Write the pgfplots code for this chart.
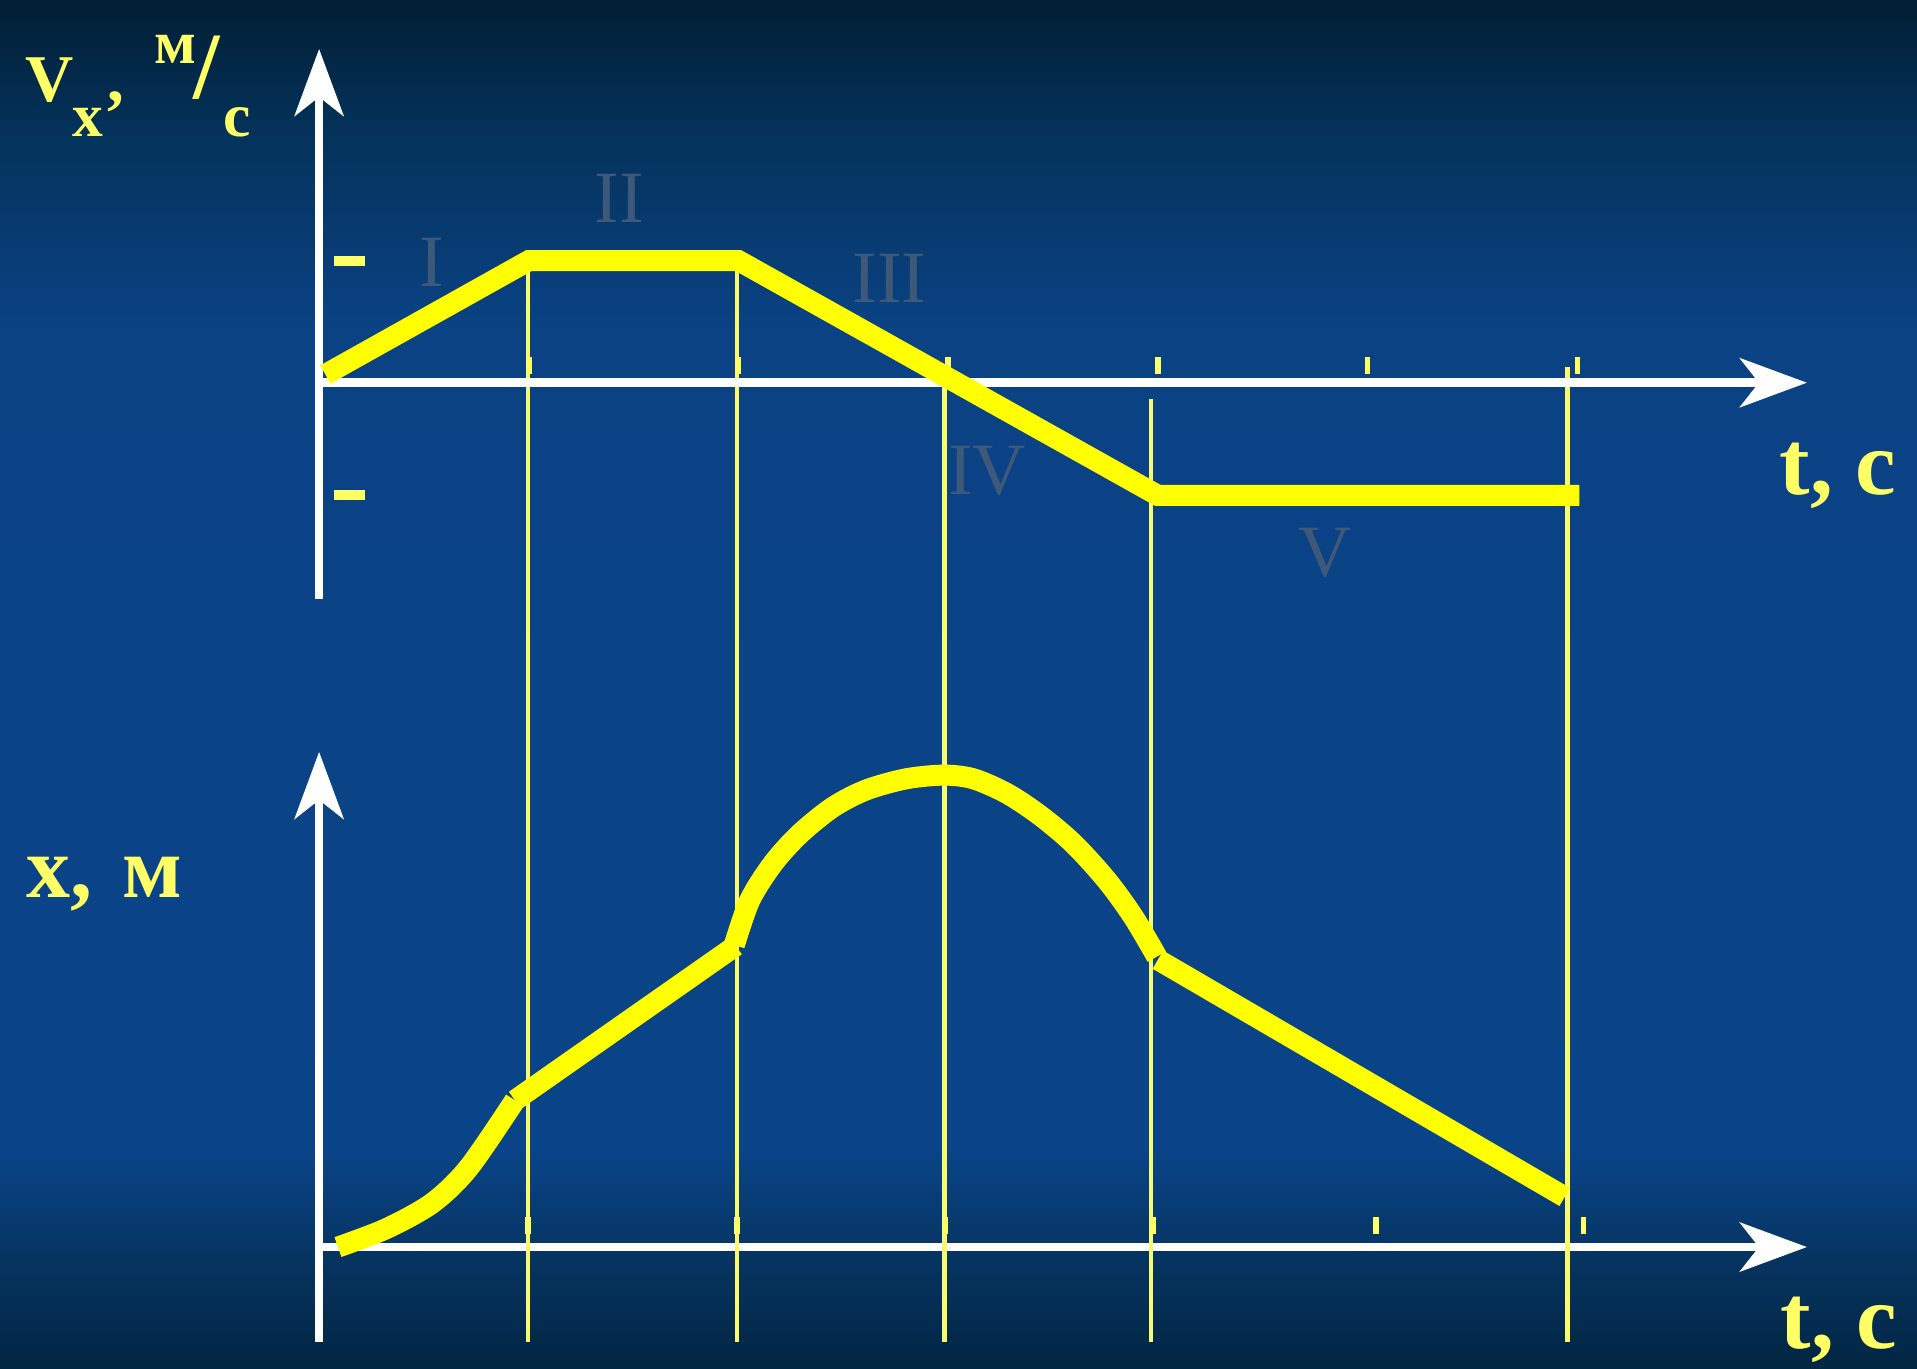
\documentclass[border=0pt]{standalone}
\usepackage{fontspec}
\setmainfont{Liberation Serif}
\usepackage{pgfplots}
\pgfplotsset{compat=1.18}
\usetikzlibrary{arrows.meta}

\definecolor{curveyellow}{RGB}{255,255,0}
\definecolor{thinyellow}{RGB}{250,250,110}
\definecolor{labelyellow}{RGB}{255,255,102}
\definecolor{romangrey}{RGB}{62,88,122}
\definecolor{bg0}{RGB}{1,30,52}
\definecolor{bg1}{RGB}{4,50,90}
\definecolor{bg2}{RGB}{10,66,132}
\definecolor{bg3}{RGB}{10,68,136}
\definecolor{bg4}{RGB}{6,52,96}
\definecolor{bg5}{RGB}{2,38,66}

\pgfplotsset{
  phys/.style={
    axis lines=middle, enlargelimits=false, clip=false,
    anchor=south west, xmin=0, xmax=7.095, x=2.097cm,
    axis line style={white, line width=0.085cm,
      -{Stealth[length=0.67cm,width=0.49cm,inset=0.19cm]}},
    xticklabels={}, ytick=\empty,
    major tick length=0.17cm,
  },
  thick curve/.style={curveyellow, line width=0.21cm},
  guide/.style={thinyellow, line width=0.045cm},
}

\begin{document}
\begin{tikzpicture}
% slide background, dark at top and bottom
\shade[top color=bg0, bottom color=bg1] (0,12.38) rectangle (19.17,13.68);
\shade[top color=bg1, bottom color=bg2] (0,10.38) rectangle (19.17,12.38);
\shade[top color=bg2, bottom color=bg3] (0,2.18) rectangle (19.17,10.38);
\shade[top color=bg3, bottom color=bg4] (0,1.08) rectangle (19.17,2.18);
\shade[top color=bg4, bottom color=bg5] (0,0) rectangle (19.17,1.08);

% x(t)
\begin{axis}[phys, at={(3.191cm,0.256cm)}, y=1.2226cm, ymin=-0.78, ymax=4.05,
  xtick={0.997,1.994,2.985,3.977,5.04,6.03},
  xtick style={draw=labelyellow, line width=0.055cm, yshift=0.22cm}]
\addplot[guide] coordinates {(0.997,-0.78) (0.997,8.07)};
\addplot[guide] coordinates {(1.994,-0.78) (1.994,8.07)};
\addplot[guide] coordinates {(2.983,-0.78) (2.983,7.07)};
\addplot[guide] coordinates {(3.968,-0.78) (3.968,6.94)};
\addplot[guide] coordinates {(5.953,-0.78) (5.953,7.20)};
\addplot[thick curve, smooth] coordinates {
  (0.09,0.00) (0.32,0.15) (0.54,0.36) (0.714,0.65) (0.934,1.20)};
\addplot[thick curve] coordinates {(0.934,1.20) (1.987,2.465)};
\addplot[thick curve, smooth] coordinates {
  (1.98,2.47) (2.055,2.84) (2.166,3.14) (2.293,3.38) (2.452,3.60) (2.611,3.74)
  (2.80,3.83) (2.98,3.86) (3.12,3.83) (3.28,3.71) (3.438,3.53) (3.597,3.30)
  (3.756,3.00) (3.883,2.70) (3.995,2.375)};
\addplot[thick curve] coordinates {(4.0,2.35) (5.94,0.41)};
\end{axis}

% v_x(t)
\begin{axis}[phys, at={(3.191cm,7.689cm)}, y=1.174cm, ymin=-1.843, ymax=2.843,
  xtick={1,...,6},
  xtick style={draw=labelyellow, line width=0.055cm, yshift=0.175cm},
  extra y ticks={-0.96,1.04}, extra y tick labels={},
  extra tick style={major tick length=0.31cm,
    tick style={draw=labelyellow, line width=0.1cm, xshift=0.30cm}}]
\addplot[thick curve] coordinates {
  (0.03,0.07) (1,1.04) (2,1.04) (3,0.04) (4,-0.96) (6.01,-0.96)};
\end{axis}

% stage numbers
\begin{scope}[every node/.style={romangrey, inner sep=0pt, anchor=base,
    font=\fontsize{21}{21}\selectfont}]
\node at (4.32,10.81) {I};
\node at (6.195,11.45) {II};
\node at (8.895,10.65) {III};
\node at (9.87,8.73) {IV};
\node at (13.25,7.91) {V};
\end{scope}

% axis names
\begin{scope}[every node/.style={labelyellow, inner sep=0pt, anchor=base west,
    font=\bfseries\fontsize{17.5}{17.5}\selectfont}]
\node[font=\bfseries\fontsize{19}{19}\selectfont] at (0.246,12.663) {V};
\node at (0.714,12.313) {x};
\node[font=\bfseries\fontsize{19}{19}\selectfont] at (1.07,12.663) {,};
\node at (1.54,13.047) {м};
\node[font=\bfseries\fontsize{27}{27}\selectfont] at (1.93,12.69) {/};
\node at (2.23,12.313) {с};
\node[font=\bfseries\fontsize{26}{26}\selectfont] at (17.79,8.73) {t, с};
\node[font=\bfseries\fontsize{26}{26}\selectfont] at (17.80,0.20) {t, с};
\node[font=\bfseries\fontsize{25}{25}\selectfont] at (0.255,4.70) {x,\hspace{0.1em} м};
\end{scope}
\end{tikzpicture}
\end{document}
